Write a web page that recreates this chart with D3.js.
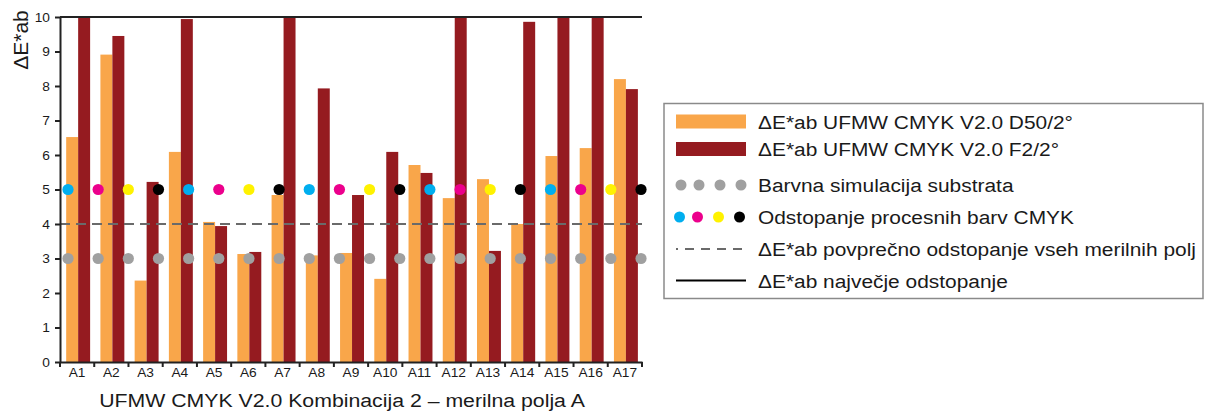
<!DOCTYPE html>
<html>
<head>
<meta charset="utf-8">
<script src="https://cdn.jsdelivr.net/npm/d3@7"></script>
<style>
  body { margin: 0; background: #fff; }
  text { font-family: "Liberation Sans", Arial, sans-serif; fill: #1a1a1a; }
</style>
</head>
<body>
<svg id="chart" width="1209" height="412"></svg>
<script>
// measuring fields
const fields = ["A1","A2","A3","A4","A5","A6","A7","A8","A9","A10","A11","A12","A13","A14","A15","A16","A17"];

// dE*ab per field, two illuminants
const d50Values = [6.52, 8.91, 2.36, 6.09, 4.06, 3.13, 4.84, 3.09, 3.16, 2.41, 5.71, 4.75, 5.30, 4.00, 5.97, 6.20, 8.20];
const f2Values  = [10, 9.45, 5.22, 9.94, 3.94, 3.19, 10, 7.93, 4.84, 6.09, 5.48, 10, 3.22, 9.86, 10, 10, 7.91];

// substrate simulation marks and process ink marks
const substrateValues = [3,3,3,3,3,3,3,3,3,3,3,3,3,3,3,3,3,3,3,3];
const processInks   = ["C","M","Y","K","C","M","Y","K","C","M","Y","K","C","M","Y","K","C","M","Y","K"];
const processValues = [5,5,5,5,5,5,5,5,5,5,5,5,5,5,5,5,5,5,5,5];

const averageDeltaE = 4;
const maxDeltaE = 10;
const yTicks = [0,1,2,3,4,5,6,7,8,9,10];

const seriesNames = ["\u0394E*ab UFMW CMYK V2.0 D50/2\u00b0", "\u0394E*ab UFMW CMYK V2.0 F2/2\u00b0"];

let colorOrange = "#f9a64a",
    colorDarkRed = "#951b20",
    colorGrey = "#a0a0a0",
    colorAxis = "#222";
const inkColors = {C: "#00aeef", M: "#ec008c", Y: "#fff200", K: "#000000"};

let svg = d3.select("#chart"),
    margin = {top: 17, left: 60},
    width = 582,
    height = 345,
    g = svg.append("g").attr("transform", "translate(" + margin.left + "," + margin.top + ")");

//scales
let x = d3.scaleBand().domain(fields).range([0, width]),
    xs = d3.scaleBand().domain(["d50", "f2"]).range([0, x.bandwidth()]).paddingOuter(0.43).align(0.6),
    y = d3.scaleLinear().domain([0, 10]).range([height, 0]).clamp(true),
    dotX = d3.scalePoint().domain(substrateValues.map(function(d, i) { return i; })).range([8, width - 1]);

const rows = fields.map(function(f, i) { return {field: f, d50: d50Values[i], f2: f2Values[i]}; });

//bars
let groups = g.selectAll(".field")
  .data(rows)
  .enter().append("g")
  .attr("class", "field")
  .attr("transform", function(d) { return "translate(" + x(d.field) + ",0)"; });

groups.append("rect")
  .attr("x", xs("d50"))
  .attr("y", function(d) { return y(d.d50); })
  .attr("width", xs.bandwidth())
  .attr("height", function(d) { return height - y(d.d50); })
  .attr("fill", colorOrange);

groups.append("rect")
  .attr("x", xs("f2"))
  .attr("y", function(d) { return y(d.f2); })
  .attr("width", xs.bandwidth())
  .attr("height", function(d) { return height - y(d.f2); })
  .attr("fill", colorDarkRed);

//average line
g.append("line")
  .attr("x1", 0).attr("x2", width)
  .attr("y1", y(averageDeltaE)).attr("y2", y(averageDeltaE))
  .attr("stroke", "#6a6a6a")
  .attr("stroke-width", 2)
  .attr("stroke-dasharray", "10,6");

//max line
g.append("line")
  .attr("x1", 0).attr("x2", width)
  .attr("y1", y(maxDeltaE)).attr("y2", y(maxDeltaE))
  .attr("stroke", colorAxis)
  .attr("stroke-width", 2);

//dots
g.selectAll(".substrate")
  .data(substrateValues)
  .enter().append("circle")
  .attr("class", "substrate")
  .attr("cx", function(d, i) { return dotX(i); })
  .attr("cy", function(d) { return y(d); })
  .attr("r", 5.6)
  .attr("fill", colorGrey);

g.selectAll(".ink")
  .data(processValues)
  .enter().append("circle")
  .attr("class", "ink")
  .attr("cx", function(d, i) { return dotX(i); })
  .attr("cy", function(d) { return y(d); })
  .attr("r", 5.6)
  .attr("fill", function(d, i) { return inkColors[processInks[i]]; });

//y axis
let yAxis = g.append("g")
  .call(d3.axisLeft(y).tickValues(yTicks).tickSize(5).tickPadding(5).tickSizeOuter(0));
yAxis.select(".domain").attr("stroke", colorAxis).attr("stroke-width", 2);
yAxis.selectAll(".tick line").attr("stroke", colorAxis).attr("stroke-width", 2);
yAxis.selectAll(".tick text")
  .style("font-size", "12.5px")
  .attr("fill", "#1a1a1a")
  .attr("x", -10 / 1.1)
  .attr("transform", "scale(1.1,1)");

//x axis
let xAxis = g.append("g")
  .attr("transform", "translate(0," + height + ")")
  .call(d3.axisBottom(x).tickSize(0).tickPadding(6).tickSizeOuter(0));
xAxis.select(".domain").attr("stroke", colorAxis).attr("stroke-width", 2);
xAxis.selectAll(".tick text")
  .style("font-size", "12.5px")
  .attr("fill", "#1a1a1a")
  .attr("transform", "scale(1.1,1)");

xAxis.selectAll(".bound")
  .data(d3.range(fields.length + 1))
  .enter().append("line")
  .attr("class", "bound")
  .attr("x1", function(i) { return i * x.step(); })
  .attr("x2", function(i) { return i * x.step(); })
  .attr("y1", 0).attr("y2", 5)
  .attr("stroke", colorAxis)
  .attr("stroke-width", 2);

//axis titles
svg.append("text")
  .attr("transform", "translate(28,40) rotate(-90)")
  .attr("text-anchor", "middle")
  .style("font-size", "21px")
  .text("\u0394E*ab");

svg.append("g")
  .attr("transform", "translate(342,407) scale(1.12,1)")
  .append("text")
  .attr("text-anchor", "middle")
  .style("font-size", "19px")
  .text("UFMW CMYK V2.0 Kombinacija 2 \u2013 merilna polja A");

//legend
let legend = svg.append("g").attr("class", "legend");
legend.append("rect")
  .attr("x", 664).attr("y", 103.5)
  .attr("width", 539).attr("height", 195)
  .attr("fill", "none")
  .attr("stroke", "#8a8a8a")
  .attr("stroke-width", 1.5);

const legendLabels = [seriesNames[0], seriesNames[1], "Barvna simulacija substrata",
  "Odstopanje procesnih barv CMYK", "\u0394E*ab povpre\u010dno odstopanje vseh merilnih polj",
  "\u0394E*ab najve\u010dje odstopanje"];
let rowY = [121.5, 149, 185, 217, 249, 280.5];
let dotSlots = [681, 699, 720, 741];

legendLabels.forEach(function(label, i) {
  legend.append("g")
    .attr("transform", "translate(758," + (rowY[i] + 7) + ") scale(1.1,1)")
    .append("text")
    .style("font-size", "19px")
    .text(label);
});

legend.append("rect").attr("x", 676).attr("y", rowY[0] - 7).attr("width", 70).attr("height", 14).attr("fill", colorOrange);
legend.append("rect").attr("x", 676).attr("y", rowY[1] - 7).attr("width", 70).attr("height", 14).attr("fill", colorDarkRed);

legend.selectAll(".lg-sub")
  .data(dotSlots)
  .enter().append("circle")
  .attr("cx", function(d) { return d; })
  .attr("cy", rowY[2])
  .attr("r", 5.5)
  .attr("fill", colorGrey);

legend.selectAll(".lg-ink")
  .data(["C","M","Y","K"])
  .enter().append("circle")
  .attr("cx", function(d, i) { return dotSlots[i] - 1.5; })
  .attr("cy", rowY[3])
  .attr("r", 5.5)
  .attr("fill", function(d) { return inkColors[d]; });

legend.append("line")
  .attr("x1", 676).attr("x2", 746)
  .attr("y1", rowY[4]).attr("y2", rowY[4])
  .attr("stroke", "#6a6a6a")
  .attr("stroke-width", 2)
  .attr("stroke-dasharray", "9,7")
  .attr("stroke-dashoffset", 7);

legend.append("line")
  .attr("x1", 676).attr("x2", 746)
  .attr("y1", rowY[5]).attr("y2", rowY[5])
  .attr("stroke", "#000")
  .attr("stroke-width", 2);
</script>
</body>
</html>
